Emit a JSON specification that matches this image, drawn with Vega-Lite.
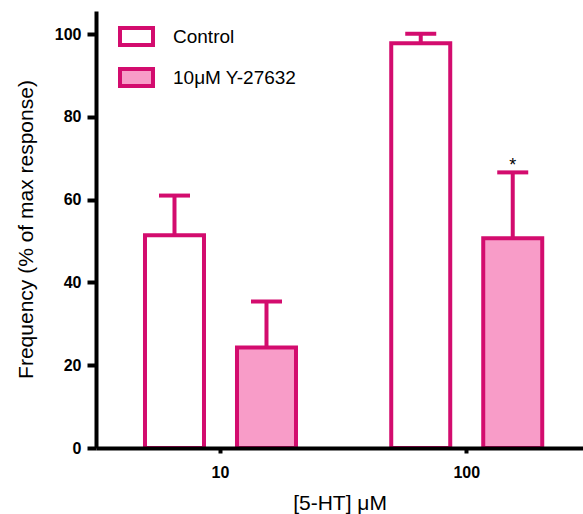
{
  "$schema": "https://vega.github.io/schema/vega-lite/v6.json",
  "width": 487,
  "height": 437,
  "autosize": {"type": "none"},
  "padding": {"left": 96, "top": 11, "right": 0, "bottom": 66},
  "background": "white",
  "config": {"view": {"stroke": null}, "font": "Liberation Sans"},
  "data": {
    "values": [
      {"conc": "10", "group": "Control", "mean": 51.4, "upper": 61.0, "sig": ""},
      {"conc": "10", "group": "10μM Y-27632", "mean": 24.3, "upper": 35.4, "sig": ""},
      {"conc": "100", "group": "Control", "mean": 97.8, "upper": 100.1, "sig": ""},
      {"conc": "100", "group": "10μM Y-27632", "mean": 50.7, "upper": 66.6, "sig": "*"}
    ]
  },
  "encoding": {
    "x": {
      "field": "conc",
      "type": "nominal",
      "scale": {"domain": ["10", "100"], "paddingInner": 0.1223, "paddingOuter": 0.05, "align": 0.667},
      "axis": {
        "title": "[5-HT] μM",
        "labelAngle": 0,
        "domainColor": "black",
        "domainWidth": 4,
        "tickColor": "black",
        "tickWidth": 4,
        "tickSize": 5,
        "labelFont": "Liberation Sans",
        "labelFontWeight": "bold",
        "labelFontSize": 16,
        "labelColor": "black",
        "labelPadding": 11,
        "titleFont": "Liberation Sans",
        "titleFontSize": 21,
        "titleFontWeight": "normal",
        "titleColor": "black",
        "titleX": 243.5,
        "titleY": 61,
        "titleBaseline": "alphabetic",
        "zindex": 1
      }
    },
    "xOffset": {
      "field": "group",
      "type": "nominal",
      "scale": {"domain": ["Control", "10μM Y-27632"], "paddingInner": 0.3587, "paddingOuter": 0.354}
    }
  },
  "layer": [
    {
      "mark": {"type": "bar", "stroke": "#D30C6E", "strokeWidth": 4, "opacity": 1},
      "encoding": {
        "y": {
          "field": "mean",
          "type": "quantitative",
          "scale": {"domain": [0, 105.6], "nice": false},
          "axis": {
            "values": [0, 20, 40, 60, 80, 100],
            "title": "Frequency (% of max response)",
            "grid": false,
            "domainColor": "black",
            "domainWidth": 4,
            "tickColor": "black",
            "tickWidth": 4,
            "tickSize": 9,
            "labelFont": "Liberation Sans",
            "labelFontWeight": "bold",
            "labelFontSize": 16,
            "labelColor": "black",
            "labelPadding": 6,
            "titleFont": "Liberation Sans",
            "titleFontSize": 21,
            "titleFontWeight": "normal",
            "titleColor": "black",
            "titleX": -64,
            "titleY": 218,
            "titleBaseline": "alphabetic",
            "zindex": 1
          }
        },
        "fill": {
          "field": "group",
          "type": "nominal",
          "scale": {"domain": ["Control", "10μM Y-27632"], "range": ["#FFFFFF", "#F89CC8"]},
          "legend": {
            "orient": "none",
            "legendX": 22,
            "legendY": 7,
            "title": null,
            "symbolType": "M-1,-0.515H1V0.515H-1Z",
            "symbolSize": 1089,
            "symbolStrokeColor": "#D30C6E",
            "symbolStrokeWidth": 4,
            "symbolOpacity": 1,
            "labelFont": "Liberation Sans",
            "labelFontSize": 19,
            "labelColor": "black",
            "labelOffset": 18,
            "labelLimit": 300,
            "rowPadding": 6,
            "padding": 0
          }
        }
      }
    },
    {
      "mark": {"type": "rule", "color": "#D30C6E", "strokeWidth": 4},
      "encoding": {
        "y": {"field": "mean", "type": "quantitative"},
        "y2": {"field": "upper"}
      }
    },
    {
      "mark": {"type": "tick", "color": "#D30C6E", "thickness": 4, "size": 31, "opacity": 1},
      "encoding": {"y": {"field": "upper", "type": "quantitative"}}
    },
    {
      "mark": {"type": "text", "fontSize": 18, "color": "black", "baseline": "alphabetic", "dy": -1},
      "encoding": {
        "y": {"field": "upper", "type": "quantitative"},
        "text": {"field": "sig"}
      }
    }
  ]
}
